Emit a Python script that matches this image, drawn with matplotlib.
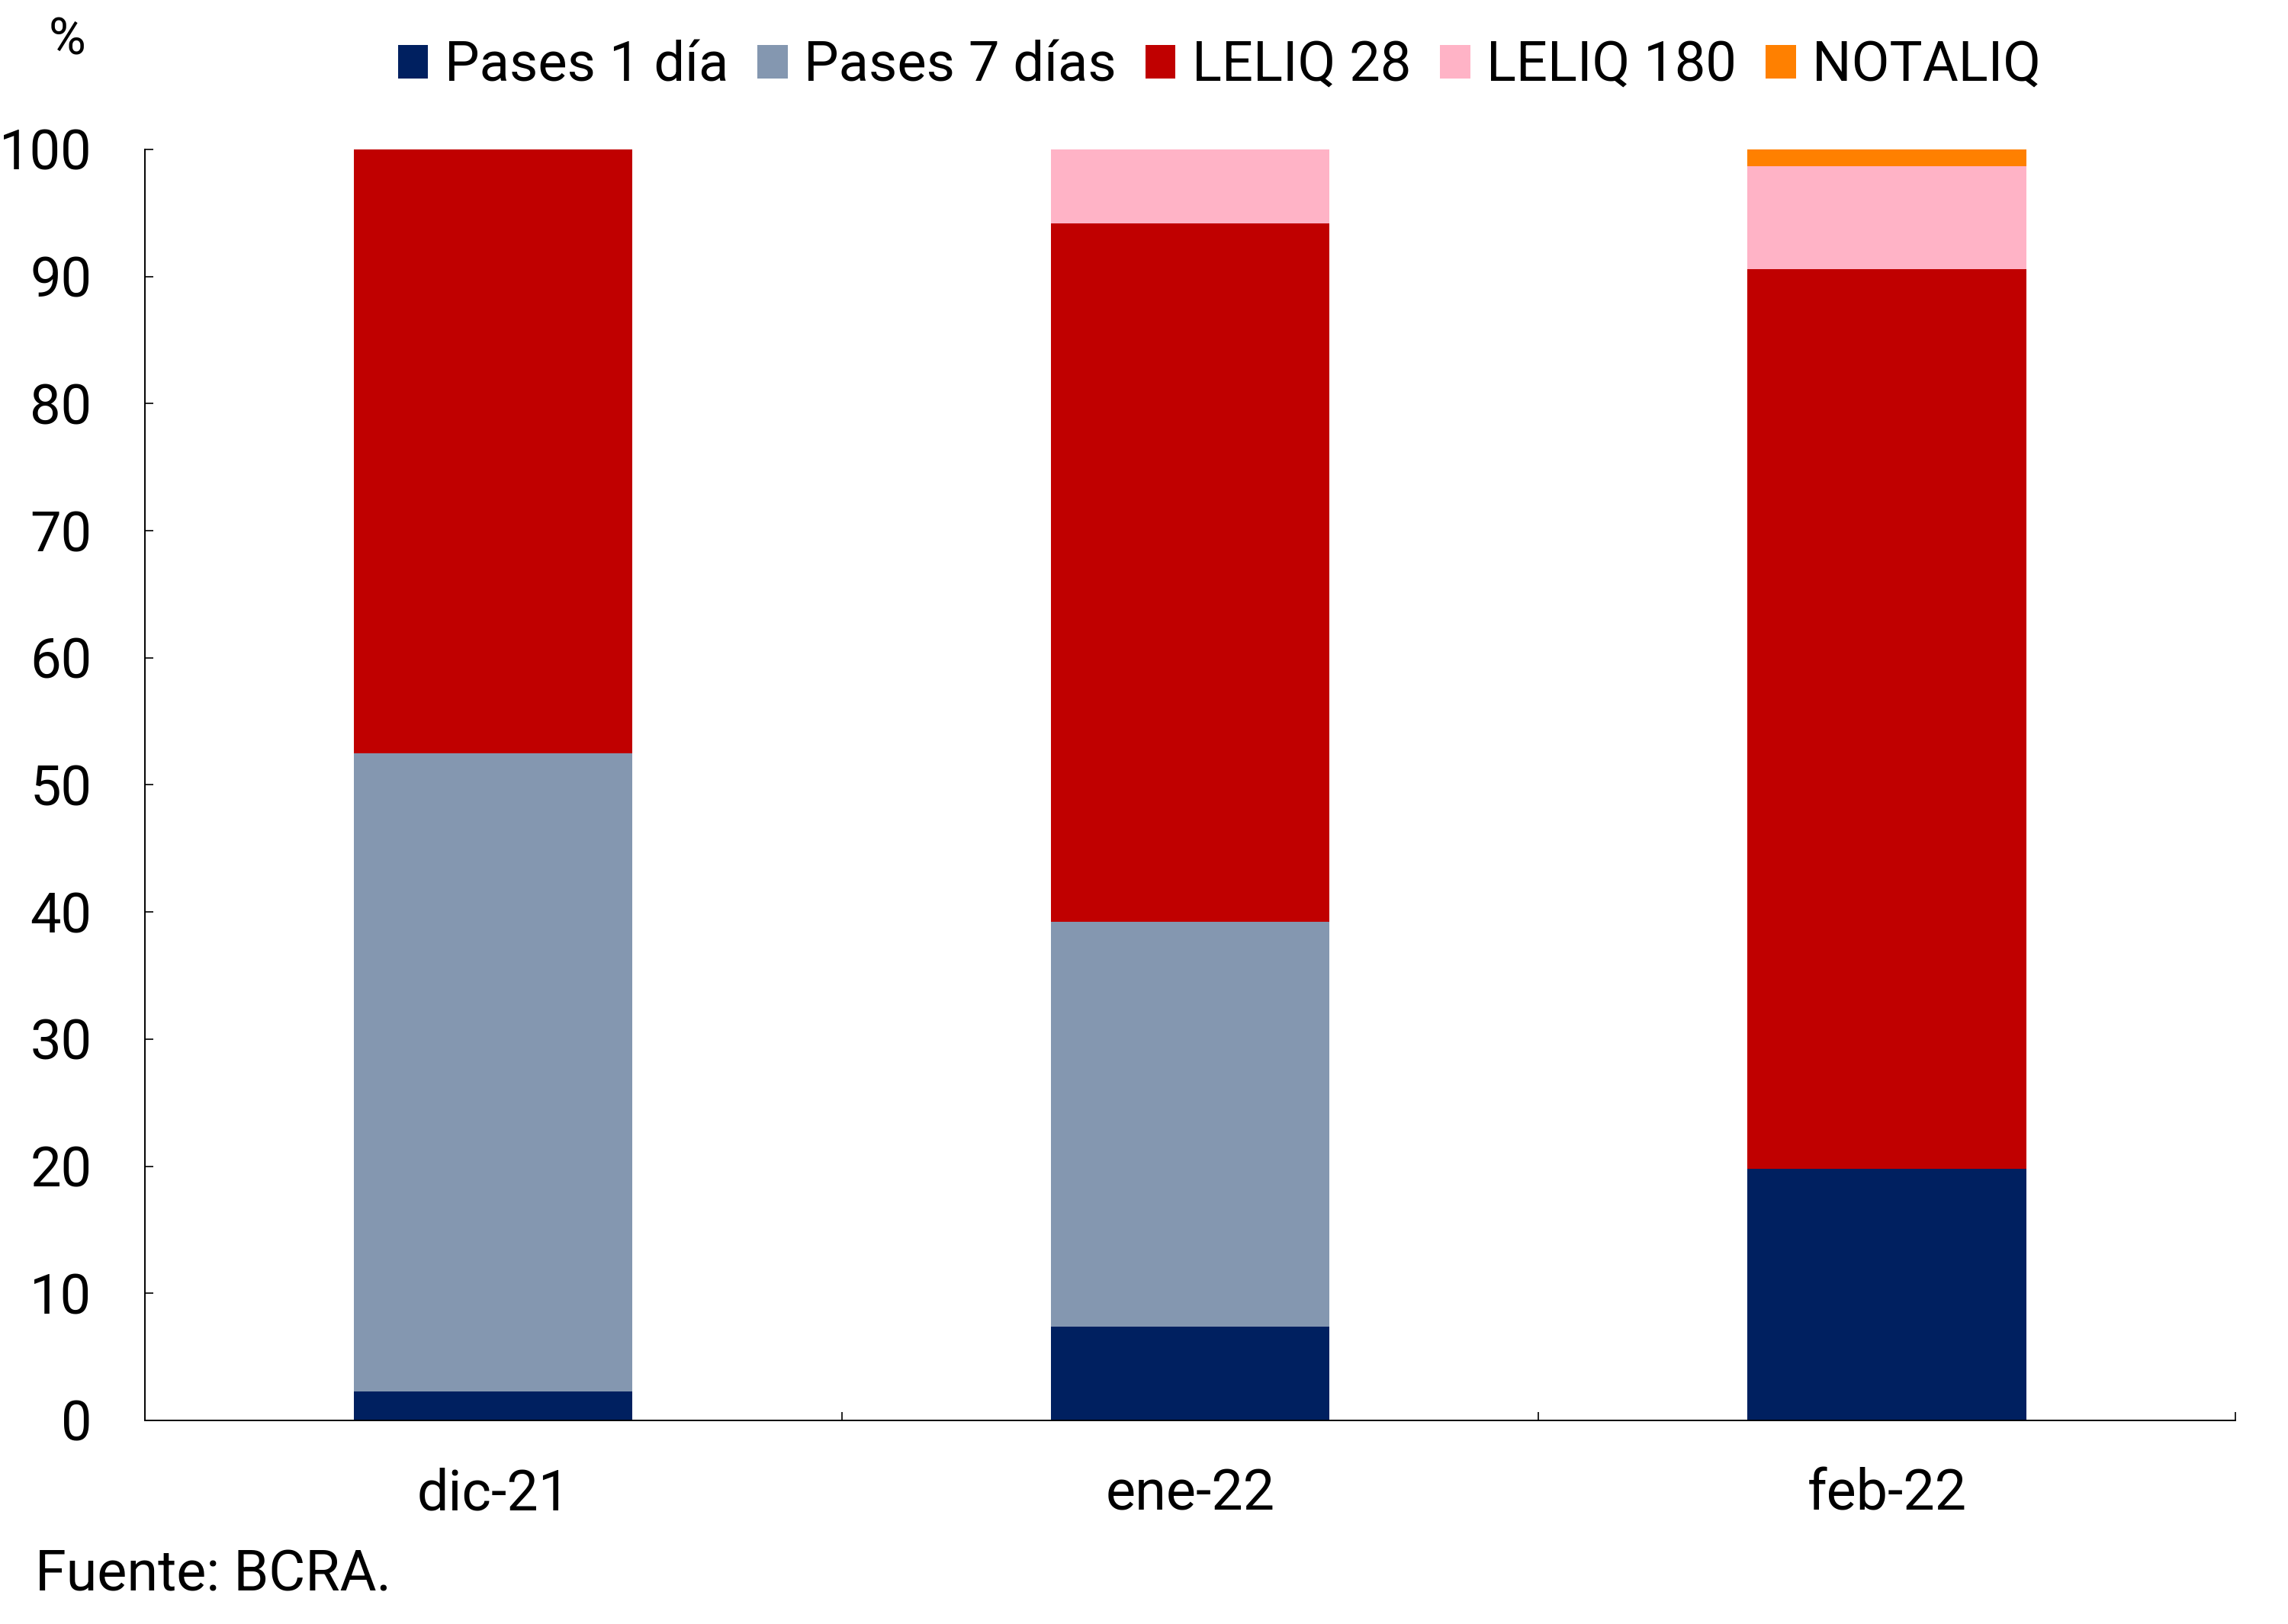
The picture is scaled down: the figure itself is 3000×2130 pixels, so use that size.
import matplotlib
matplotlib.use("Agg")
import matplotlib.pyplot as plt
import numpy as np

plt.rcParams['font.family'] = ['Roboto', 'DejaVu Sans']

categories = ["dic-21", "ene-22", "feb-22"]
series_names = ["Pases 1 día", "Pases 7 días", "LELIQ 28", "LELIQ 180", "NOTALIQ"]
pases_1 = [2.3, 7.4, 19.8]
pases_7 = [50.2, 31.8, 0.0]
leliq_28 = [47.5, 55.0, 70.8]
leliq_180 = [0.0, 5.8, 8.1]
notaliq = [0.0, 0.0, 1.3]
yticks = [0, 10, 20, 30, 40, 50, 60, 70, 80, 90, 100]

colors = ["#002060", "#8497B0", "#C00000", "#FFB3C6", "#FF8000"]
series = [pases_1, pases_7, leliq_28, leliq_180, notaliq]

fig = plt.figure(figsize=(15, 10.65), dpi=200)
ax = fig.add_axes([0.0633, 0.1254, 0.9137, 0.7826])

x = np.arange(len(categories))
bottom = np.zeros(len(categories))
handles = []
for name, vals, c in zip(series_names, series, colors):
    b = ax.bar(x, vals, width=0.4, bottom=bottom, color=c, label=name, linewidth=0)
    handles.append(b)
    bottom += np.array(vals)

ax.set_xlim(-0.5, 2.5)
ax.set_ylim(0, 100)
ax.set_yticks(yticks)
ax.set_yticklabels([str(v) for v in yticks], fontsize=26)
ax.set_xticks(x)
ax.set_xticklabels(categories, fontsize=26.5)
ax.set_xticks([0.5, 1.5, 2.5], minor=True)
ax.tick_params(axis='x', which='major', length=0, pad=22)
ax.tick_params(axis='x', which='minor', direction='in', length=4, width=0.6)
ax.tick_params(axis='y', which='major', direction='in', length=4, width=0.6, pad=25)
for s in ['top', 'right']:
    ax.spines[s].set_visible(False)
for s in ['left', 'bottom']:
    ax.spines[s].set_linewidth(0.7)

fig.text(88 / 3000, 1 - 54 / 2130, "%", fontsize=24, ha='center', va='center')
fig.text(46 / 3000, 1 - 2066 / 2130, "Fuente: BCRA.", fontsize=26.5, ha='left', va='center')

fig.legend(handles=handles, labels=series_names, loc='center', ncol=5,
           bbox_to_anchor=(0.533, 1 - 87 / 2130), frameon=False, fontsize=26,
           handlelength=0.55, handleheight=0.55, handletextpad=0.3, columnspacing=0.52,
           borderpad=0)

fig.savefig("out.png", dpi=200)
